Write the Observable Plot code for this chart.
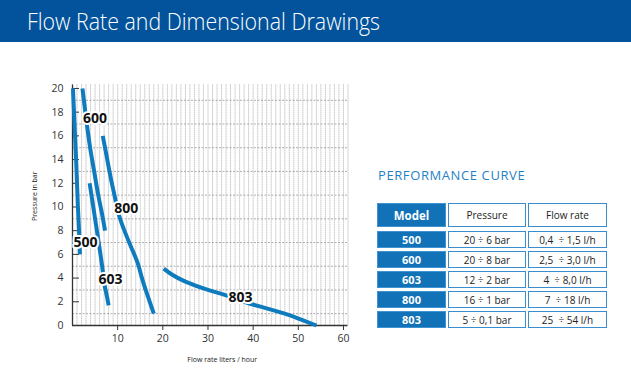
<!DOCTYPE html>
<html><head><meta charset="utf-8">
<script src="https://cdn.jsdelivr.net/npm/d3@7"></script>
<script src="https://cdn.jsdelivr.net/npm/@observablehq/plot@0.6"></script>
<style>
body{margin:0;width:631px;height:388px;background:#fff;position:relative;overflow:hidden;font-family:"Open Sans",sans-serif;}
#hdr{position:absolute;left:0;top:0;width:631px;height:42px;background:#02539b;}
#title{position:absolute;left:27px;top:9px;line-height:24px;color:#fff;font-size:24px;font-weight:300;white-space:nowrap;transform:scaleX(0.89);transform-origin:0 0;}
#chart{position:absolute;left:0;top:50px;}
#perf{position:absolute;left:378px;top:169px;line-height:13px;font-size:13px;color:#1f82c6;letter-spacing:0.6px;white-space:nowrap;}
.cell{position:absolute;display:flex;align-items:center;justify-content:center;box-sizing:border-box;white-space:nowrap;}
.m{background:#1172b8;color:#fff;font-weight:700;font-size:11px;border:1px solid #3f93d3;}
.v{background:#fff;color:#222;font-size:10px;border:1.5px solid #3a8ed0;}
</style></head><body>
<div id="hdr"><div id="title"></div></div>
<div id="chart"></div>
<div id="perf"></div>
<div id="table"></div>
<script>
const titleText = "Flow Rate and Dimensional Drawings";
const perfTitle = "PERFORMANCE CURVE";
const xLabel = "Flow rate liters / hour";
const yLabel = "Pressure in bar";

// curves: flow (l/h) vs pressure (bar)
const flow500 = [0.1, 0.45, 0.8, 1.0, 1.2, 1.45, 1.65];
const pres500 = [20, 17, 14, 12, 10, 8, 6];
const flow600 = [2.2, 3.0, 3.9, 4.8, 5.7, 6.5, 7.2];
const pres600 = [20, 17.5, 15, 13, 11, 9.5, 8];
const flow603 = [3.8, 4.4, 5.2, 6.0, 6.7, 7.1, 7.6, 8.0];
const pres603 = [12, 10.5, 8.5, 6.5, 4.6, 3.4, 2.5, 1.7];
const flow800 = [6.7, 7.6, 8.5, 9.4, 10.3, 11.6, 13.0, 14.4, 15.3, 16.2, 17.1, 18.0];
const pres800 = [16, 14.2, 12.4, 10.8, 9.3, 7.9, 6.6, 5.3, 4.1, 3.0, 2.0, 1.0];
const flow803 = [20.2, 22, 25, 30, 34, 38, 42, 47, 50.5, 54];
const pres803 = [4.8, 4.3, 3.7, 3.0, 2.55, 2.0, 1.55, 1.0, 0.52, 0];

const labelNames = ["600", "800", "500", "603", "803"];
const labelFlow = [5.0, 11.9, 2.9, 8.4, 37.2];
const labelPres = [17.5, 9.9, 7.0, 3.9, 2.4];

const xTicks = [10, 20, 30, 40, 50, 60];
const yTicks = [0, 2, 4, 6, 8, 10, 12, 14, 16, 18, 20];
const gridYTicks = [1, 3, 5, 7, 9, 11, 13, 15, 17, 19];
const gridXTicks = d3.range(1, 62);

// table
const models = ["500", "600", "603", "800", "803"];
const pressures = ["20 ÷ 6 bar", "20 ÷ 8 bar", "12 ÷ 2 bar", "16 ÷ 1 bar", "5 ÷ 0,1 bar"];
const flowRates = ["0,4  ÷ 1,5 l/h", "2,5  ÷ 3,0 l/h", "4  ÷ 8,0 l/h", "7  ÷ 18 l/h", "25  ÷ 54 l/h"];
const headers = ["Model", "Pressure", "Flow rate"];

const series = [
  ["500", flow500, pres500], ["600", flow600, pres600], ["603", flow603, pres603],
  ["800", flow800, pres800], ["803", flow803, pres803]
];
const lineData = series.flatMap(([m, f, p]) => f.map((v, i) => ({model: m, flow: v, pres: p[i]})));
const labelData = labelNames.map((n, i) => ({name: n, flow: labelFlow[i], pres: labelPres[i]}));

document.getElementById("title").textContent = titleText;
document.getElementById("perf").textContent = perfTitle;

const blue = "#0f7bbf";
const chart = Plot.plot({
  width: 370, height: 320,
  marginLeft: 72, marginRight: 22.5, marginTop: 34.4, marginBottom: 45,
  x: {domain: [0, 61]},
  y: {domain: [0, 20.3]},
  style: {fontFamily: "Open Sans", fontSize: "10.5px", color: "#333", background: "transparent", overflow: "visible"},
  marks: [
    Plot.gridX(gridXTicks, {stroke: "#8a8a8a", strokeOpacity: 1, strokeWidth: 0.7, strokeDasharray: "1,1"}),
    Plot.gridY(gridYTicks, {stroke: "#8a8a8a", strokeOpacity: 1, strokeWidth: 0.7, strokeDasharray: "2,1.5"}),
    Plot.ruleY([0], {stroke: "#333", strokeWidth: 1.3}),
    Plot.ruleX([0], {stroke: "#333", strokeWidth: 1.3}),
    Plot.axisY(yTicks, {tickSize: 0, tickPadding: 9, label: null}),
    Plot.axisY(yTicks, {tickSize: -7, tickFormat: () => "", label: null, stroke: "#333"}),
    Plot.axisX(xTicks, {tickSize: 5, tickPadding: 4, label: null, stroke: "#333"}),
    Plot.line(lineData, {x: "flow", y: "pres", z: "model", stroke: blue, strokeWidth: 4, curve: "natural", strokeLinecap: "butt"}),
    Plot.text(labelData, {x: "flow", y: "pres", text: "name", fontWeight: 700, fontSize: 14, fill: "#111", stroke: "white", strokeWidth: 4}),
    Plot.text([xLabel], {frameAnchor: "bottom", lineAnchor: "middle", textAnchor: "middle", dy: 34, dx: 12, fontSize: 7, fill: "#222"}),
    Plot.text([yLabel], {frameAnchor: "left", textAnchor: "middle", lineAnchor: "middle", rotate: -90, dx: -37.5, dy: -9, fontSize: 7, fill: "#222"})
  ]
});
document.getElementById("chart").appendChild(chart);

// table
const tbl = document.getElementById("table");
const colLeft = [377, 448, 528], colWidth = [69, 78, 79];
const rowTop = [231, 251, 271, 291, 311];
function cell(text, cls, left, top, w, h, extra) {
  const d = document.createElement("div");
  d.className = "cell " + cls;
  d.style.left = left + "px"; d.style.top = top + "px";
  d.style.width = w + "px"; d.style.height = h + "px";
  if (extra) Object.assign(d.style, extra);
  d.textContent = text;
  tbl.appendChild(d);
}
headers.forEach((h, j) => cell(h, j === 0 ? "m" : "v", colLeft[j], 203, colWidth[j], 24, j === 0 ? {fontSize: "11.5px"} : null));
models.forEach((m, i) => {
  cell(m, "m", colLeft[0], rowTop[i], colWidth[0], 17);
  cell(pressures[i], "v", colLeft[1], rowTop[i], colWidth[1], 17);
  cell(flowRates[i], "v", colLeft[2], rowTop[i], colWidth[2], 17, {whiteSpace: "pre"});
});
</script>
</body></html>
